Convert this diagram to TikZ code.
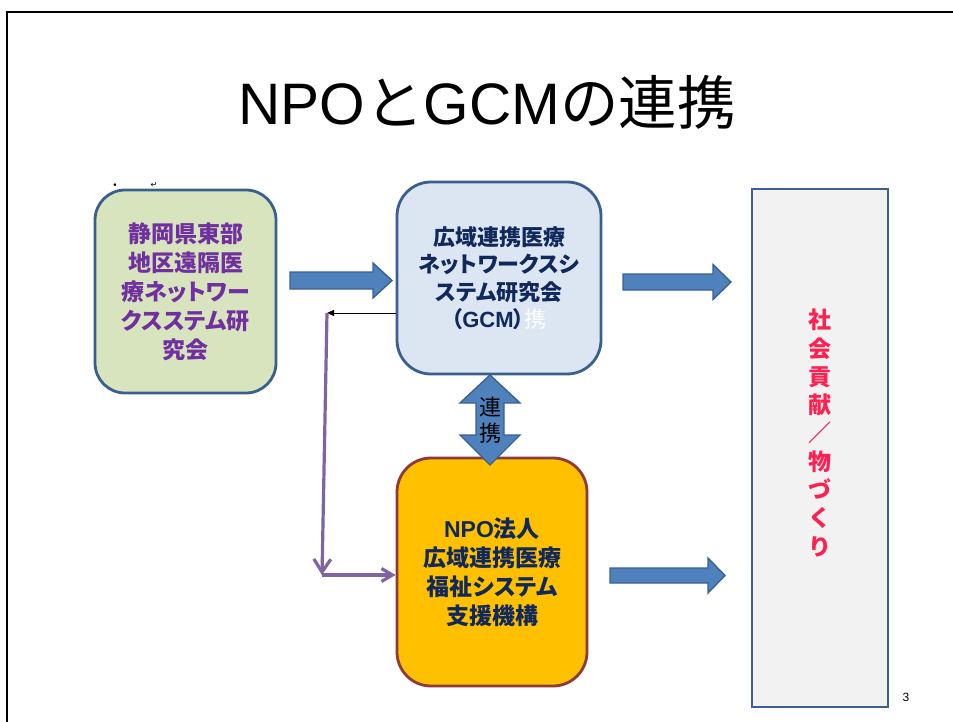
\documentclass[tikz,border=0pt]{standalone}
\usepackage{fontspec}
\setmainfont{Liberation Sans}
\newfontfamily\jp{Noto Sans CJK JP}[RawFeature=+palt]
\newfontfamily\jpm{Noto Sans CJK JP}
\newfontfamily\dv{DejaVu Sans}
\usetikzlibrary{arrows.meta}
\definecolor{boxline}{HTML}{3A5F8E}
\definecolor{greenfill}{HTML}{D7E4BD}
\definecolor{purpletext}{HTML}{7030A0}
\definecolor{bluefill}{HTML}{DCE6F2}
\definecolor{navy}{HTML}{10285A}
\definecolor{orangefill}{HTML}{FFC000}
\definecolor{orangeline}{HTML}{8E3A38}
\definecolor{arrowfill}{HTML}{4F81BD}
\definecolor{arrowline}{HTML}{3A6190}
\definecolor{purpleline}{HTML}{8064A2}
\definecolor{redtext}{HTML}{FF1F50}
\definecolor{grayfill}{HTML}{F2F2F2}
\newcommand\harrowshape[6]{%
  \draw[barrow] (#1,{#3-#4}) -- ({#2-#6},{#3-#4}) -- ({#2-#6},{#3-#5}) -- (#2,#3)
    -- ({#2-#6},{#3+#5}) -- ({#2-#6},{#3+#4}) -- (#1,{#3+#4}) -- cycle;}
\begin{document}
\begin{tikzpicture}[x=1pt,y=-1pt,
  box/.style={line width=2.8pt, inner sep=0pt, align=center,
    font=\jp\bfseries\fontsize{23}{29}\selectfont},
  barrow/.style={fill=arrowfill, draw=arrowline, line width=1.4pt},
  purp/.style={draw=purpleline, line width=3.2pt},
  ]
\useasboundingbox (0,0) rectangle (953,722);
% slide frame
\draw[line width=2.2pt] (7,722) -- (7,12) -- (953,12);
% title
\node[anchor=base, inner sep=0pt, font=\fontsize{58.5}{58.5}\selectfont] (title) at (487,125)
  {NPO{\jpm と}GCM{\jpm の連携}};
% small marks
\node[inner sep=0pt, font=\dv\fontsize{9}{9}\selectfont] (dot) at (115,186) {•};
\node[inner sep=0pt, font=\dv\fontsize{8}{8}\selectfont] (ret) at (154,185) {↵};
% boxes
\node[box, draw=boxline, fill=greenfill, rounded corners=30pt, text=purpletext,
  minimum width=181pt, minimum height=203pt] (green) at (185.5,291.5)
  {静岡県東部\\地区遠隔医\\療ネットワー\\クスステム研\\究会};
\node[box, draw=boxline, fill=bluefill, rounded corners=34pt, text=navy,
  minimum width=204pt, minimum height=192pt,
  font=\jp\bfseries\fontsize{22}{27.5}\selectfont] (gcm) at (499,278)
  {広域連携医療\\ネットワークスシ\\ステム研究会\\（{\fontspec{Liberation Sans}\bfseries GCM}）{\color{white}\mdseries 携}};
\node[box, draw=orangeline, fill=orangefill, rounded corners=34pt, text=navy,
  minimum width=190pt, minimum height=228pt] (npo) at (492,572)
  {{\fontspec{Liberation Sans}\bfseries NPO}法人\\広域連携医療\\福祉システム\\支援機構};
\node[box, draw=boxline, fill=grayfill, rounded corners=0pt,
  minimum width=136pt, minimum height=518pt] (social) at (820,448) {};
\node[inner sep=0pt, align=center, text=redtext,
  font=\jpm\bfseries\fontsize{23}{28.3}\selectfont] (socialtext) at (820,433)
  {社\\会\\貢\\献\\／\\物\\づ\\く\\り};
% block arrows
\harrowshape{290}{392}{280.5}{8.5}{17.5}{19}
\harrowshape{623}{731}{282}{8}{17.5}{18}
\harrowshape{610}{725}{575.5}{7.5}{17.5}{17}
% double arrow between GCM and NPO
\draw[barrow] (490,375) -- (520,403) -- (504,403) -- (504,435) -- (520,435) -- (490,465)
  -- (460,435) -- (476,435) -- (476,403) -- (460,403) -- cycle;
\node[inner sep=0pt, align=center, font=\jpm\fontsize{22}{26}\selectfont] (renkei) at (490,420)
  {連\\携};
% thin black arrow and purple connector
\coordinate (tip) at (327,313);
\coordinate (corner) at (322,575);
\draw[line width=0.9pt, -{Triangle[length=7pt,width=6pt]}] (gcm.west |- tip) -- (tip);
\draw[purp, -{Straight Barb[length=13pt,width=17pt]}] (tip) -- (corner);
\draw[purp, -{Straight Barb[length=11pt,width=13pt]}] (corner) -- (npo.west |- corner);
% page number
\node[inner sep=0pt, font=\fontsize{12}{12}\selectfont] (pagenum) at (906,697) {3};
\end{tikzpicture}
\end{document}
